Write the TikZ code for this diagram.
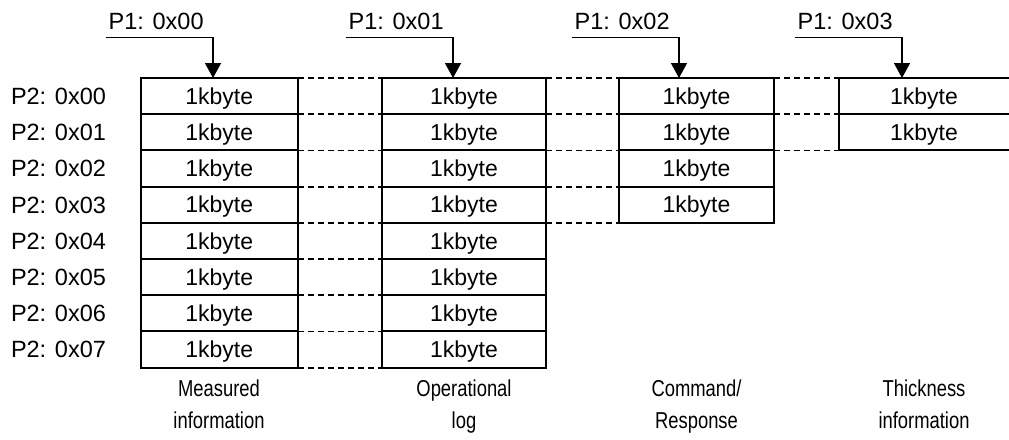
\documentclass[tikz,border=0pt]{standalone}
\usepackage{fontspec}
\setmainfont{Liberation Sans}
\newfontfamily\narrowfont[FakeStretch=0.8]{Liberation Sans}
\usetikzlibrary{arrows.meta}

\tikzset{
  cell/.style={draw, line width=2pt, outer sep=0pt, inner sep=0pt,
    minimum height=36.2pt, text height=16.5pt, text depth=0pt,
    font=\fontsize{23}{28}\selectfont},
  gapline/.style={line width=1.8pt, dash pattern=on 6pt off 4pt},
  pointer/.style={line width=1.5pt, -{Triangle[length=15pt,width=16pt]}},
  toplab/.style={inner sep=0pt, anchor=base west, font=\fontsize{23.5}{28}\selectfont},
  rowlab/.style={inner sep=0pt, anchor=base west, font=\fontsize{23.5}{28}\selectfont},
  caption/.style={inner sep=0pt, anchor=north, align=center,
    font=\narrowfont\fontsize{23}{31.6}\selectfont}
}

\begin{document}
\begin{tikzpicture}[x=1pt,y=-1pt]
  \useasboundingbox (0,0) rectangle (1009,439);

  % memory blocks: column / left edge / width / last row / text offset
  \foreach \c/\x/\w/\last/\k in {0/141/156.5/7/0, 1/382/164/7/0, 2/619/155/3/0, 3/839/180/1/-10} {
    \foreach \r in {0,...,\last} {
      \node[cell, minimum width=\w pt] (c\c-\r) at ({\x+\w/2},{78+(\r+0.5)*36.2}) {\kern\k pt 1kbyte};
    }
  }

  % row addresses
  \foreach \r in {0,...,7} {
    \node[rowlab] (r\r) at (10.8,{78+(\r+0.5)*36.2+8.3}) {P2: 0x0\r};
  }

  % dashed continuations between neighbouring blocks
  \foreach \a/\b/\last in {0/1/7, 1/2/3, 2/3/1} {
    \foreach \r in {0,...,\last} {
      \draw[gapline] (c\a-\r.north east) -- (c\b-\r.north west);
    }
    \draw[gapline] (c\a-\last.south east) -- (c\b-\last.south west);
  }

  % page selectors
  \foreach \c/\sx/\ax in {0/106/213, 1/346/453, 2/572/679, 3/795/902} {
    \coordinate (s\c) at (\sx,37.3);
    \coordinate (t\c) at (\ax,0);
    \node[toplab] (p\c) at (\sx+2.5,29.3) {P1: 0x0\c};
    \draw[pointer] (s\c) -| (t\c |- c\c-0.north);
  }

  % block captions
  \node[caption] (m0) at (219,380) {Measured\\information};
  \node[caption] (m1) at (464,380) {Operational\\log};
  \node[caption] (m2) at (696.5,380) {Command/\\Response};
  \node[caption] (m3) at (924,380) {Thickness\\information};
\end{tikzpicture}
\end{document}
